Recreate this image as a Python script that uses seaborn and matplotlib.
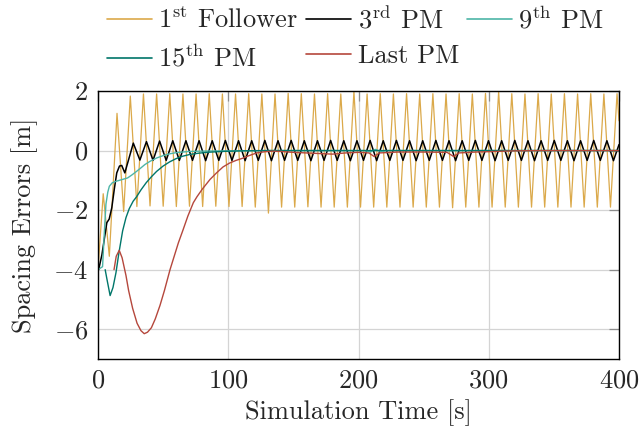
import numpy as np
import pandas as pd
import matplotlib
matplotlib.use("Agg")
import matplotlib.pyplot as plt
import seaborn as sns

# ---------------- data ----------------
series_names = ["1st", "3rd", "9th", "15th", "Last"]
legend_labels = [r"1$^{\rm st}$ Follower", r"3$^{\rm rd}$ PM", r"9$^{\rm th}$ PM",
                 r"15$^{\rm th}$ PM", r"Last PM"]
series_colors = ["#dba94a", "#000000", "#4db5a7", "#00766a", "#b5473c"]
series_widths = [0.9, 1.1, 1.0, 1.0, 1.0]

# 1st follower: turning points of the oscillation
follower_t = [0.0, 4.0, 8.7, 14.6, 19.7, 24.8, 29.85, 34.9, 39.95, 45.0,
              50.05, 55.1, 60.15, 65.2, 70.25, 75.3, 80.35, 85.4, 90.45, 95.5,
              100.55, 105.6, 110.65, 115.7, 120.75, 125.8, 130.85, 135.9, 140.95, 146.0,
              151.05, 156.1, 161.15, 166.2, 171.25, 176.3, 181.35, 186.4, 191.45, 196.5,
              201.55, 206.6, 211.65, 216.7, 221.75, 226.8, 231.85, 236.9, 241.95, 247.0,
              252.05, 257.1, 262.15, 267.2, 272.25, 277.3, 282.35, 287.4, 292.45, 297.5,
              302.55, 307.6, 312.65, 317.7, 322.75, 327.8, 332.85, 337.9, 342.95, 348.0,
              353.05, 358.1, 363.15, 368.2, 373.25, 378.3, 383.35, 388.4, 393.45, 398.5,
              400.0]
follower_v = [-4.0, -1.45, -3.55, 1.25, -2.05, 1.83, -1.88, 1.90, -1.86, 1.90,
              -1.87, 1.91, -1.88, 1.90, -1.87, 1.90, -1.88, 1.91, -1.87, 1.90,
              -1.88, 1.90, -1.88, 1.91, -1.90, 1.90, -2.10, 1.90, -1.90, 1.92,
              -1.90, 1.91, -1.89, 1.90, -1.90, 1.91, -1.90, 1.90, -1.90, 1.98,
              -1.90, 1.90, -1.90, 1.91, -1.90, 1.90, -1.90, 1.91, -1.90, 1.90,
              -1.90, 1.91, -1.90, 1.90, -1.92, 1.91, -1.90, 1.90, -1.90, 1.92,
              -1.90, 1.98, -1.90, 1.91, -1.90, 1.90, -1.90, 1.91, -1.90, 1.90,
              -1.90, 1.91, -1.90, 1.90, -1.90, 1.91, -1.90, 1.90, -1.90, 1.91,
              1.0]

# 3rd PM
third_t = [0.0, 0.5, 3.0, 5.1, 6.8, 8.6, 10.6, 12.5, 14.4, 16.5,
           18.2, 20.6, 27.1, 32.15, 37.2, 42.25, 47.3, 52.35, 57.4, 62.45,
           67.5, 72.55, 77.6, 82.65, 87.7, 92.75, 97.8, 102.85, 107.9, 112.95,
           118.0, 123.05, 128.1, 133.15, 138.2, 143.25, 148.3, 153.35, 158.4, 163.45,
           168.5, 173.55, 178.6, 183.65, 188.7, 193.75, 198.8, 203.85, 208.9, 213.95,
           219.0, 224.05, 229.1, 234.15, 239.2, 244.25, 249.3, 254.35, 259.4, 264.45,
           269.5, 274.55, 279.6, 284.65, 289.7, 294.75, 299.8, 304.85, 309.9, 314.95,
           320.0, 325.05, 330.1, 335.15, 340.2, 345.25, 350.3, 355.35, 360.4, 365.45,
           370.5, 375.55, 380.6, 385.65, 390.7, 395.75, 400.0]
third_v = [-4.0, -4.0, -3.5, -2.9, -2.42, -2.3, -1.92, -1.3, -0.75, -0.52,
           -0.5, -0.75, 0.25, -0.32, 0.3, -0.33, 0.32, -0.33, 0.33, -0.33,
           0.33, -0.33, 0.33, -0.34, 0.33, -0.33, 0.34, -0.33, 0.33, -0.34,
           0.33, -0.33, 0.34, -0.34, 0.33, -0.33, 0.34, -0.33, 0.33, -0.34,
           0.33, -0.33, 0.34, -0.33, 0.33, -0.34, 0.33, -0.33, 0.34, -0.34,
           0.33, -0.33, 0.34, -0.33, 0.33, -0.34, 0.33, -0.33, 0.34, -0.33,
           0.33, -0.34, 0.33, -0.33, 0.34, -0.33, 0.33, -0.34, 0.33, -0.33,
           0.34, -0.33, 0.33, -0.34, 0.33, -0.33, 0.34, -0.33, 0.33, -0.34,
           0.33, -0.33, 0.34, -0.33, 0.33, -0.34, 0.2]

# 9th PM
ninth_t = [0.0, 3.5, 4.8, 6.1, 7.5, 8.7, 11.0, 14.0, 18.0, 22.7,
           26.0, 29.0, 33.0, 36.0, 40.0, 45.0, 50.0, 55.0, 60.0, 70.0,
           85.0, 100.0, 130.0, 205.0, 209.0, 213.0, 217.0, 222.0, 400.0]
ninth_v = [-4.0, -3.9, -2.8, -1.8, -1.4, -1.2, -1.08, -1.03, -0.98, -0.92,
           -0.82, -0.72, -0.58, -0.47, -0.36, -0.25, -0.17, -0.11, -0.07, -0.03,
           -0.015, -0.01, 0.0, 0.0, -0.05, 0.04, -0.03, 0.0, 0.0]

# 15th PM
fifteenth_t = [5.5, 7.0, 9.3, 11.5, 13.8, 16.0, 18.9, 21.5, 24.0, 27.0,
               29.5, 33.0, 37.0, 41.0, 45.0, 50.0, 55.0, 60.0, 65.0, 70.6,
               77.0, 83.5, 95.0, 110.0, 130.0, 400.0]
fifteenth_v = [-4.0, -4.35, -4.87, -4.6, -4.1, -3.45, -2.7, -2.25, -1.95, -1.7,
               -1.56, -1.32, -1.08, -0.88, -0.7, -0.52, -0.38, -0.27, -0.19, -0.13,
               -0.09, -0.06, -0.03, -0.01, 0.0, 0.0]

# Last PM
last_t = [12.3, 14.0, 16.3, 18.5, 21.5, 23.5, 26.6, 30.0, 33.0, 35.5,
          38.0, 41.0, 44.0, 47.6, 51.0, 55.3, 58.5, 61.7, 65.0, 69.0,
          73.2, 76.0, 80.0, 86.0, 91.0, 96.0, 101.0, 106.0, 111.6, 116.0,
          121.8, 128.0, 134.0, 140.0, 150.0, 160.0, 170.0, 180.0, 190.0, 200.0,
          208.0, 212.0, 216.0, 230.0, 250.0, 268.0, 273.0, 277.0, 290.0, 305.0,
          320.0, 340.0, 400.0]
last_v = [-4.0, -3.55, -3.35, -3.6, -4.2, -4.7, -5.3, -5.8, -6.05, -6.15,
          -6.1, -5.95, -5.65, -5.2, -4.7, -4.0, -3.55, -3.1, -2.7, -2.2,
          -1.75, -1.55, -1.3, -0.97, -0.75, -0.55, -0.42, -0.33, -0.25, -0.17,
          -0.08, -0.04, -0.02, -0.03, -0.06, -0.08, -0.1, -0.12, -0.08, -0.06,
          -0.08, -0.2, -0.08, -0.05, -0.05, -0.06, -0.2, -0.08, -0.05, -0.03,
          -0.01, 0.0, 0.0]

x_ticks = [0, 100, 200, 300, 400]
y_ticks = [-6, -4, -2, 0, 2]

# ---------------- table ----------------
frames = []
for name, t, v in zip(series_names,
                      [follower_t, third_t, ninth_t, fifteenth_t, last_t],
                      [follower_v, third_v, ninth_v, fifteenth_v, last_v]):
    assert len(t) == len(v), name
    frames.append(pd.DataFrame({"t": t, "v": v, "series": name}))
df = pd.concat(frames, ignore_index=True)

# ---------------- style ----------------
sns.set_theme(style="white")
plt.rcParams["font.family"] = ["cmr10"]
plt.rcParams["mathtext.fontset"] = "cm"
plt.rcParams["axes.formatter.use_mathtext"] = True
plt.rcParams["axes.unicode_minus"] = True

FS = 19

fig = plt.figure(figsize=(6.41, 4.30), dpi=100)
ax = fig.add_axes([98 / 641, 1 - 359 / 430, 521 / 641, 268 / 430])

sns.lineplot(data=df, x="t", y="v", hue="series", hue_order=series_names,
             palette=dict(zip(series_names, series_colors)),
             size="series", sizes=dict(zip(series_names, series_widths)),
             estimator=None, sort=False, legend=False, ax=ax)

ax.set_xlim(0, 400)
ax.set_ylim(-7, 2)
ax.set_xticks(x_ticks)
ax.set_yticks(y_ticks)
ax.grid(True, color="#d4d4d4", linewidth=0.9)
ax.set_axisbelow(True)
for s in ax.spines.values():
    s.set_color("black")
    s.set_linewidth(1.0)
ax.tick_params(direction="in", length=7, width=0.9, color="#8c8c8c",
               top=True, right=True, labelsize=FS)
ax.tick_params(axis="x", pad=7)
ax.tick_params(axis="y", pad=7)
ax.set_xlabel("Simulation Time [s]", fontsize=FS, labelpad=5)
ax.set_ylabel("Spacing Errors [m]", fontsize=FS, labelpad=11)

# legend, 3 columns filled row-wise like the reference
handles = {}
for name, col in zip(series_names, series_colors):
    handles[name] = plt.Line2D([], [], color=col, linewidth=1.2)
order = [0, 3, 1, 4, 2]
leg = fig.legend([handles[series_names[i]] for i in order],
                 [legend_labels[i] for i in order],
                 loc="upper left", bbox_to_anchor=(107 / 641, 1 - 6 / 430),
                 ncol=3, frameon=False, fontsize=FS, borderpad=0,
                 handlelength=1.7, handletextpad=0.25, columnspacing=0.3,
                 labelspacing=0.42, borderaxespad=0)

fig.savefig("out.png", dpi=100)
